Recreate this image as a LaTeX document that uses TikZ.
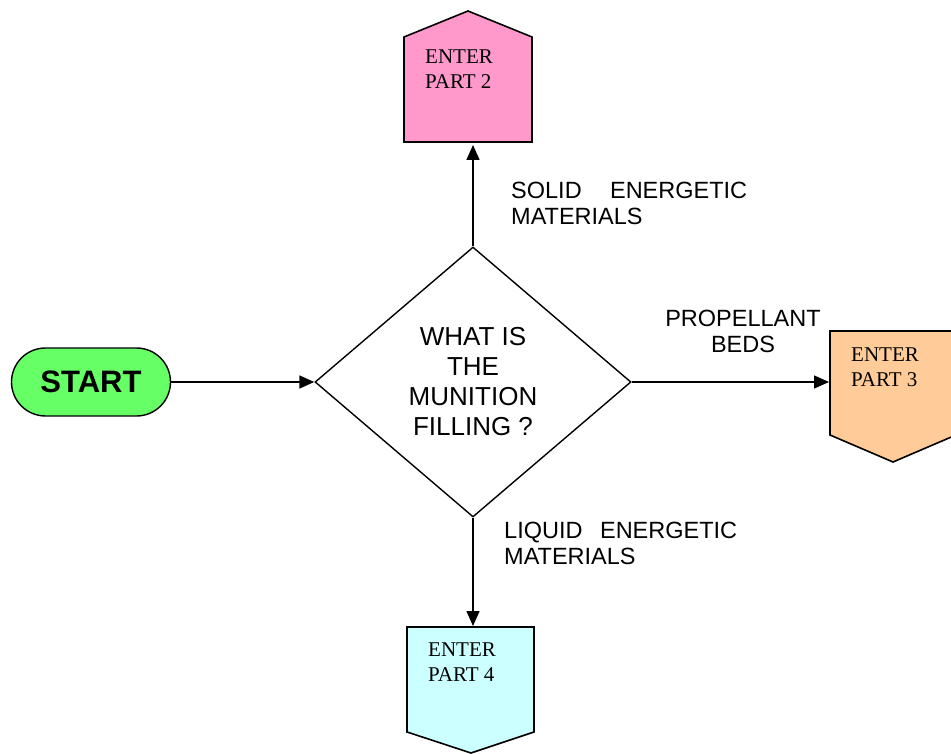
\documentclass[tikz,border=0pt]{standalone}
\usepackage{fontspec}
\setmainfont{Liberation Sans}
\newfontfamily\partfont{Liberation Serif}
\usetikzlibrary{shapes.geometric,shapes.misc,arrows.meta}
\definecolor{startgreen}{HTML}{66FF66}
\definecolor{partpink}{HTML}{FF99CC}
\definecolor{partorange}{HTML}{FFCC99}
\definecolor{partcyan}{HTML}{CCFFFF}
\tikzset{
    flowline/.style={line width=1.6pt, -{Triangle[length=15pt,width=13pt]}},
    partshape/.style={draw, line width=1.6pt, line join=miter},
    partlabel/.style={anchor=north west, align=left, inner sep=0pt,
        font=\partfont\fontsize{21}{25}\selectfont},
    answer/.style={anchor=north west, align=left, inner sep=0pt,
        font=\fontsize{23.5}{26}\selectfont}
}
\begin{document}
\begin{tikzpicture}[x=1pt, y=-1pt]
    \useasboundingbox (0, 0) rectangle (951, 754);
    \node[rounded rectangle, draw, line width=1.4pt, fill=startgreen, minimum width=159pt,
        minimum height=68pt, inner sep=0pt, font=\bfseries\fontsize{31}{36}\selectfont]
        (start) at (91, 382) {START};
    \node[diamond, draw, line width=1.4pt, minimum width=316pt, minimum height=270pt, inner sep=0pt,
        align=center, font=\fontsize{26}{30}\selectfont]
        (question) at (473, 382) {WHAT IS\\THE\\MUNITION\\FILLING ?};

    \draw[partshape, fill=partpink] (404, 142) -- (404, 37) -- (468, 11) -- (532, 37) -- (532, 142) -- cycle;
    \draw[partshape, fill=partorange] (830, 331) -- (956, 331) -- (956, 435) -- (893, 462) -- (830, 435) -- cycle;
    \draw[partshape, fill=partcyan] (407, 627) -- (534, 627) -- (534, 732) -- (471, 753) -- (407, 732) -- cycle;
    \coordinate (part2) at (473, 145);
    \coordinate (part3) at (829, 382);
    \coordinate (part4) at (473, 626);

    \node[partlabel] (part2txt) at (425, 50) {ENTER\\PART 2};
    \node[partlabel] (part3txt) at (851, 348) {ENTER\\PART 3};
    \node[partlabel] (part4txt) at (428, 643) {ENTER\\PART 4};

    \draw[flowline] (start.east) -- (question.west);
    \draw[flowline] (question.north) -- (part2);
    \draw[flowline] (question.east) -- (part3);
    \draw[flowline] (question.south) -- (part4);

    \node[answer] (solid) at (511, 182) {\makebox[236pt][s]{SOLID ENERGETIC}\\MATERIALS};
    \node[answer, anchor=north, align=center] (beds) at (743, 310) {PROPELLANT\\BEDS};
    \node[answer] (liquid) at (504, 522) {\makebox[233pt][s]{LIQUID ENERGETIC}\\MATERIALS};
\end{tikzpicture}
\end{document}
